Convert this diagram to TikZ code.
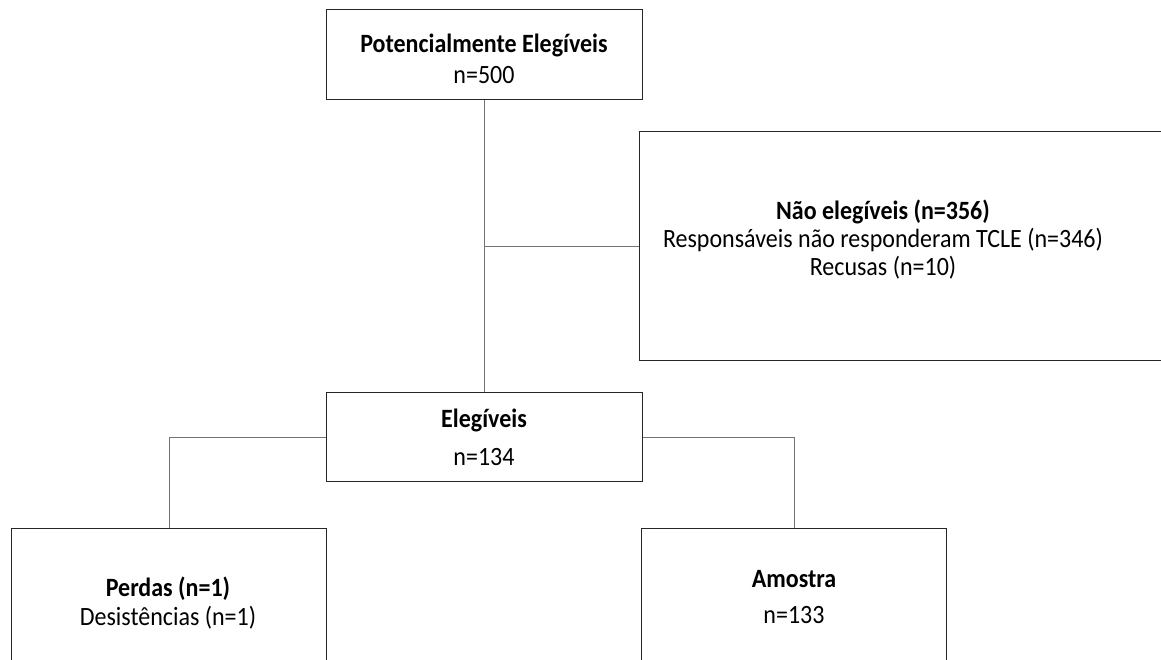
\documentclass[tikz,border=0pt]{standalone}
\usepackage{fontspec}
\usepackage{graphicx}
\setmainfont{Carlito}
\newcommand{\vstretch}[1]{\scalebox{1}[1.1]{#1}}
\begin{document}
\begin{tikzpicture}[x=1pt,y=-1pt,
  box/.style={draw=black!85, line width=1.4pt, fill=white, inner sep=0pt, anchor=north west},
  conn/.style={draw=black!55, line width=0.9pt},
  txt/.style={inner sep=0pt, align=center, font=\fontsize{24}{30}\selectfont}]
\clip (0,0) rectangle (1161,659);
\fill[white] (0,0) rectangle (1161,659);
% boxes
\node[box, minimum width=316pt, minimum height=90pt] (top) at (326,9) {};
\node[box, minimum width=560pt, minimum height=229pt] (ne) at (639,131) {};
\node[box, minimum width=316pt, minimum height=89pt] (eleg) at (326,392) {};
\node[box, minimum width=315pt, minimum height=180pt] (perdas) at (11,528) {};
\node[box, minimum width=305pt, minimum height=180pt] (amostra) at (641,528) {};
% connectors
\draw[conn] (top.south) -- (eleg.north);
\draw[conn] (ne.west) -- (ne.west -| top.south);
\draw[conn] (eleg.west) -| (perdas.north);
\draw[conn] (eleg.east) -| (amostra.north);
% texts
\node[txt] (t1) at (484,45) {\vstretch{\textbf{Potencialmente Elegíveis}}};
\node[txt] (t2) at (484,75) {\vstretch{n=500}};
\node[txt] (t3) at (883,212) {\vstretch{\textbf{Não elegíveis (n=356)}}};
\node[txt] (t4) at (883,240) {\vstretch{Responsáveis não responderam TCLE (n=346)}};
\node[txt] (t5) at (883,268) {\vstretch{Recusas (n=10)}};
\node[txt] (t6) at (484,420) {\vstretch{\textbf{Elegíveis}}};
\node[txt] (t7) at (484,457) {\vstretch{n=134}};
\node[txt] (t8) at (168,589) {\vstretch{\textbf{Perdas (n=1)}}};
\node[txt] (t9) at (168,618) {\vstretch{Desistências (n=1)}};
\node[txt] (t10) at (794,579) {\vstretch{\textbf{Amostra}}};
\node[txt] (t11) at (794,615) {\vstretch{n=133}};
\end{tikzpicture}
\end{document}
